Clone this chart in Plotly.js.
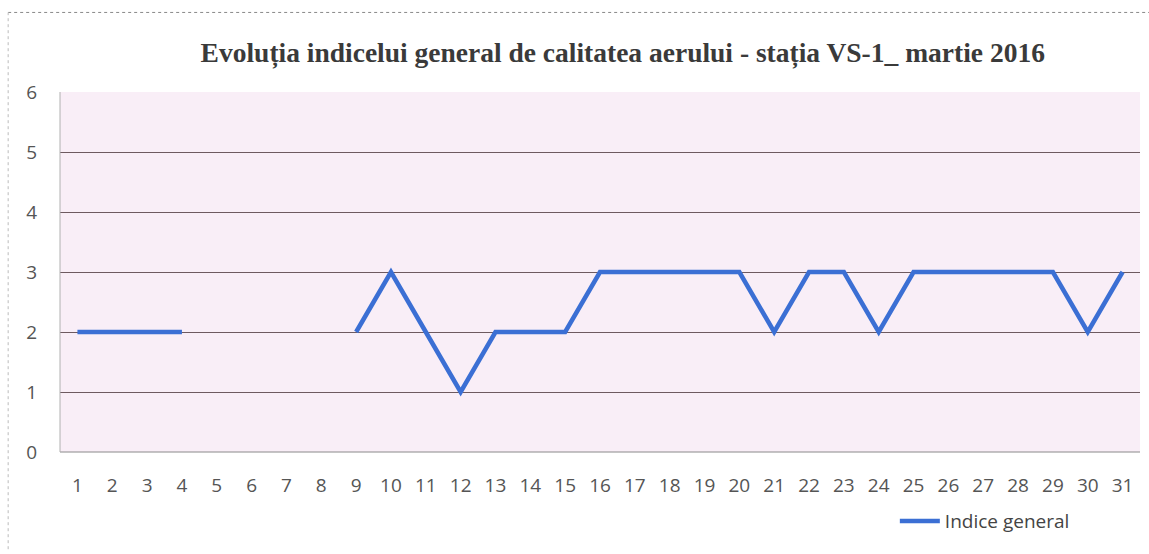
<!DOCTYPE html>
<html><head><meta charset="utf-8">
<script src="https://cdn.plot.ly/plotly-3.0.1.min.js"></script>
<style>html,body{margin:0;padding:0;background:#fff;}#chart{width:1149px;height:554px;}</style>
</head><body><div id="chart"></div>
<script>
const days = [1,2,3,4,5,6,7,8,9,10,11,12,13,14,15,16,17,18,19,20,21,22,23,24,25,26,27,28,29,30,31];
const indiceGeneral = [2,2,2,2,null,null,null,null,2,3,2,1,2,2,2,3,3,3,3,3,2,3,3,2,3,3,3,3,3,2,3];
const yTicks = [0,1,2,3,4,5,6];

const trace = {
  x: days, y: indiceGeneral, type: 'scatter', mode: 'lines',
  name: 'Indice general',
  line: {color: '#3b6fd4', width: 4.5},
  connectgaps: false
};
const layout = {
  width: 1149, height: 554,
  margin: {l: 60, r: 9, t: 92, b: 102},
  paper_bgcolor: '#ffffff', plot_bgcolor: '#f9eef7',
  title: {text: '<b>Evoluția indicelui general de calitatea aerului - stația VS-1_ martie 2016</b>',
          font: {family: 'Liberation Serif, Times New Roman, serif', size: 27.5, color: '#3a3a3a'},
          x: 0.542, xanchor: 'center', y: 0.906, yanchor: 'middle'},
  xaxis: {tickmode: 'array', tickvals: days, ticktext: days.map(String), range: [0.5, 31.5],
          showgrid: false, zeroline: false, showline: false, ticks: '',
          tickfont: {family: 'Open Sans, Liberation Sans, sans-serif', size: 19, color: '#555'}, ticklabelstandoff: 20},
  yaxis: {range: [0, 6], tickvals: yTicks, showgrid: true, gridcolor: '#6e5a60', gridwidth: 1,
          zeroline: false, showline: false, ticks: '', ticklabelstandoff: 22,
          tickfont: {family: 'Open Sans, Liberation Sans, sans-serif', size: 19, color: '#555'}},
  showlegend: true,
  legend: {x: 0.773, y: -0.192, xanchor: 'left', yanchor: 'middle', orientation: 'h',
           font: {family: 'Open Sans, Liberation Sans, sans-serif', size: 19, color: '#444'},
           bgcolor: 'rgba(0,0,0,0)', itemwidth: 40},
  shapes: [
    {type: 'line', xref: 'paper', yref: 'paper', x0: 0, x1: 1, y0: 0, y1: 0, line: {color: '#8a8a8a', width: 1}},
    {type: 'line', xref: 'paper', yref: 'paper', x0: 0, x1: 0, y0: 0, y1: 1, line: {color: '#b0b0b0', width: 1}},
    {type: 'line', xref: 'paper', yref: 'paper', x0: -0.048, x1: 1.01, y0: 1.221, y1: 1.221, line: {color: '#888', width: 1, dash: 'dot'}},
    {type: 'line', xref: 'paper', yref: 'paper', x0: -0.048, x1: -0.048, y0: -0.27, y1: 1.221, line: {color: '#bbb', width: 1, dash: 'dot'}}
  ]
};
Plotly.newPlot('chart', [trace], layout, {displayModeBar: false, staticPlot: true});
</script></body></html>
